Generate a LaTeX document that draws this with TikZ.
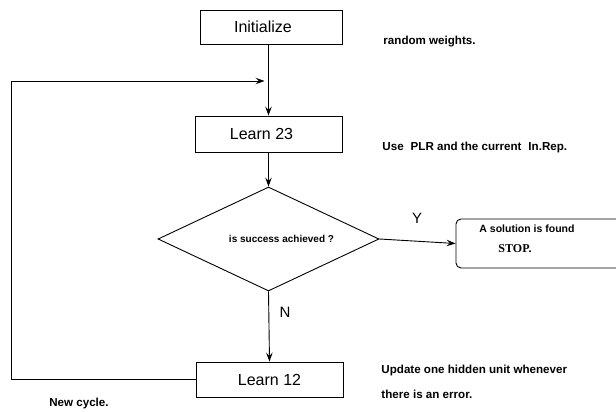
\documentclass[tikz,border=0pt]{standalone}
\usepackage{fontspec}
\setmainfont{Liberation Sans}
\newfontfamily\serifbold{Liberation Serif}
\usetikzlibrary{shapes.geometric,arrows.meta}
\begin{document}
\begin{tikzpicture}[x=1pt,y=-1pt,
  line width=0.9pt,
  procbox/.style={draw, rectangle, inner sep=0pt, font=\fontsize{16}{18}\selectfont},
  decbox/.style={draw, diamond, inner sep=0pt, aspect=2.125, minimum width=221pt, minimum height=104pt, font=\bfseries\fontsize{10}{12}\selectfont},
  stopbox/.style={draw, rectangle, rounded corners=5pt, inner sep=0pt, minimum width=172pt, minimum height=49pt},
  note/.style={anchor=west, inner sep=0pt, font=\bfseries\fontsize{11.6}{13}\selectfont},
  yn/.style={inner sep=0pt, font=\fontsize{15}{17}\selectfont},
  arr/.style={-{Stealth[length=9pt,width=6.5pt,inset=3.5pt]}}]
\useasboundingbox (0,0) rectangle (616,412);
\clip (0,0) rectangle (616,412);
% boxes
\node[procbox, minimum width=142pt, minimum height=34pt] (init) at (271,27) {\hspace*{-16pt}Initialize};
\node[procbox, minimum width=147pt, minimum height=36pt] (l23) at (268.5,134) {\hspace*{-14pt}Learn 23};
\node[decbox] (dec) at (268.5,239) {\hspace*{26pt}is success achieved ?};
\node[stopbox] (stop) at (542,243.5) {};
\node[procbox, minimum width=147pt, minimum height=35pt] (l12) at (269.5,379.5) {Learn 12};
% texts in stop box
\node[inner sep=0pt, font=\bfseries\fontsize{10.5}{12}\selectfont] (sol) at (527,229) {A solution is found};
\node[inner sep=0pt, font=\serifbold\bfseries\fontsize{12}{14}\selectfont] (stoptxt) at (515,249) {STOP.};
% notes
\node[note] (n1) at (383,42) {random weights.};
\node[note] (n2) at (382,147) {Use\hspace{0.6em}PLR and the current\hspace{0.6em}In.Rep.};
\node[note] (n3) at (381,370) {Update one hidden unit whenever};
\node[note] (n4) at (381,394) {there is an error.};
\node[note, anchor=center] (n5) at (79,403) {New cycle.};
% labels
\node[yn] (ylab) at (417,218) {Y};
\node[yn] (nlab) at (285,312) {N};
% connectors
\coordinate (join) at (l23.north |- 0,81);
\coordinate (cornerB) at (11,81);
\draw[arr] (init.south -| l23.north) -- (l23.north);
\draw[arr] (l23.south) -- (dec.north);
\draw[arr] (dec.east) -- (stop.west);
\draw[arr] (dec.south) -- (l12.north);
\draw[arr, shorten >=4pt] (l12.west) -| (cornerB) -- (join);
\end{tikzpicture}
\end{document}
